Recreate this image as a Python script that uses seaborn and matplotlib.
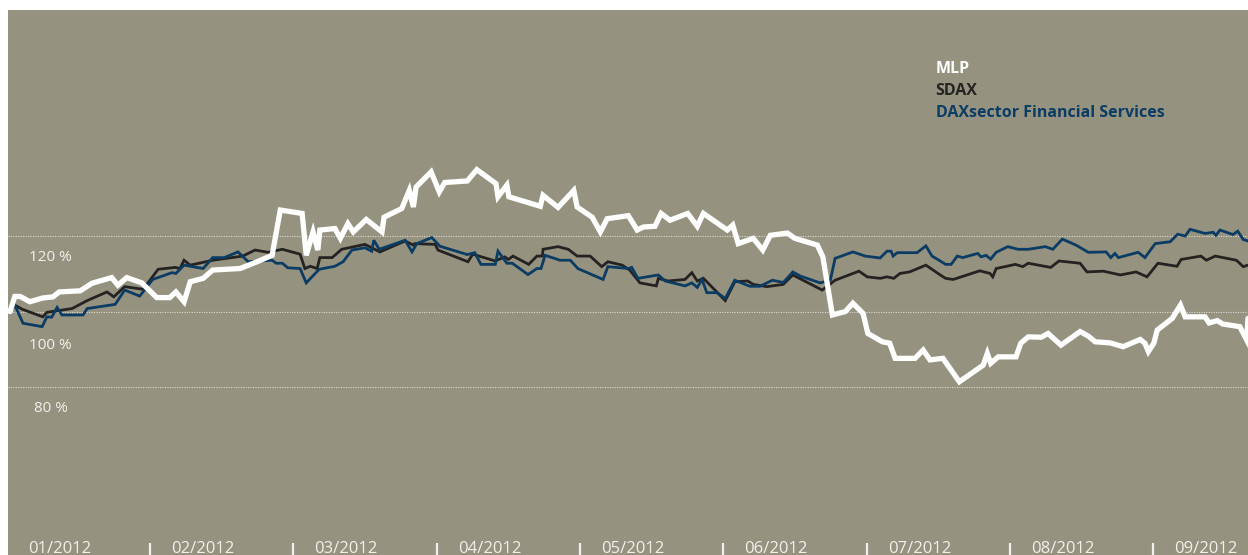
import pandas as pd
import matplotlib
matplotlib.use("Agg")
import matplotlib.pyplot as plt
import seaborn as sns

# trading days since start of January 2012 (21 per month) and index level in %
mlp_days = [0.3, 1.0, 1.8, 3.2, 5.1, 6.6, 7.5, 10.6, 12.3, 15.2, 16.1, 17.4, 19.6, 21.8, 23.7,
            24.6, 25.8, 26.7, 28.6, 30.0, 34.0, 36.5, 38.7, 39.9, 43.1, 43.7, 44.7, 45.4, 45.7,
            47.9, 48.7, 49.8, 50.6, 52.5, 54.8, 55.1, 57.7, 58.8, 59.4, 59.8, 62.0, 63.2, 64.0,
            67.3, 68.7, 71.5, 71.8, 73.1, 73.4, 78.0, 78.4, 80.6, 82.9, 83.4, 85.6, 86.8, 87.8,
            90.9, 92.2, 93.1, 94.8, 95.7, 97.0, 99.6, 101.0, 101.9, 105.4, 106.2, 107.0, 109.2,
            110.6, 111.7, 114.2, 115.3, 118.6, 119.4, 120.8, 122.7, 123.8, 125.3, 126.0, 128.1,
            129.2, 130.0, 132.9, 134.1, 135.1, 137.0, 139.4, 142.9, 143.5, 144.0, 145.1, 147.7,
            148.4, 149.5, 151.4, 152.4, 154.3, 157.1, 158.3, 159.3, 161.5, 163.4, 165.9, 166.6,
            167.1, 167.9, 168.4, 170.6, 171.8, 172.5, 175.4, 176.0, 177.2, 178.0, 180.5, 181.5,
            181.7]
mlp_values = [100.0, 104.0, 104.0, 102.6, 103.6, 103.9, 105.2, 105.5, 107.5, 109.0, 107.0, 109.0,
              107.6, 103.7, 103.7, 105.2, 102.6, 107.9, 108.8, 111.0, 111.4, 113.2, 114.9, 126.9,
              126.0, 114.9, 121.1, 116.3, 121.6, 122.0, 119.4, 123.3, 121.1, 124.4, 121.1, 125.0,
              127.3, 132.1, 127.7, 133.0, 137.0, 131.7, 134.2, 134.6, 137.6, 133.9, 130.4, 133.5,
              130.4, 127.9, 130.8, 127.6, 132.1, 127.7, 125.0, 121.1, 124.6, 125.4, 121.6, 122.4,
              122.6, 126.0, 124.2, 126.0, 122.6, 126.0, 121.6, 122.9, 118.0, 119.4, 116.3, 120.2,
              120.8, 119.4, 117.6, 114.5, 99.1, 100.0, 102.2, 99.5, 94.2, 92.0, 91.6, 87.6, 87.6,
              89.8, 87.2, 87.6, 81.4, 85.8, 88.9, 86.3, 88.0, 88.0, 91.6, 93.3, 93.2, 94.2, 91.1,
              94.7, 93.5, 92.0, 91.7, 90.7, 92.6, 91.6, 89.4, 91.6, 95.1, 98.2, 101.7, 98.6, 98.6,
              97.0, 97.6, 96.7, 96.0, 92.5, 98.2]

sdax_days = [0.3, 1.0, 2.1, 5.1, 5.7, 9.4, 11.6, 14.5, 15.5, 17.1, 19.8, 22.0, 24.5, 25.2, 25.8,
             26.7, 30.0, 34.4, 36.2, 38.1, 40.2, 42.8, 43.5, 44.3, 45.3, 45.7, 47.5, 48.9, 52.3,
             54.5, 58.2, 59.4, 59.6, 62.6, 63.0, 67.4, 68.1, 71.4, 72.8, 73.3, 74.0, 76.3, 77.5,
             78.3, 78.4, 80.6, 82.1, 83.4, 85.3, 87.0, 87.9, 90.0, 91.1, 92.6, 95.0, 95.3, 96.7,
             99.2, 100.2, 101.0, 101.9, 105.1, 106.5, 108.4, 109.2, 111.2, 113.6, 115.0, 119.3,
             121.2, 124.7, 125.9, 127.8, 128.8, 129.8, 130.7, 132.1, 134.5, 136.6, 137.4, 138.5,
             142.4, 143.9, 144.3, 144.8, 147.6, 148.7, 149.5, 152.8, 154.0, 157.1, 158.1, 160.5,
             163.0, 165.3, 166.9, 168.5, 171.3, 171.9, 174.8, 175.6, 176.9, 180.0, 181.0, 181.7]
sdax_values = [100.0, 101.7, 100.6, 98.6, 99.8, 100.8, 102.9, 105.2, 103.9, 106.6, 105.9, 111.2,
               111.7, 111.4, 113.6, 112.3, 113.6, 114.7, 116.3, 115.7, 116.5, 115.2, 111.4, 112.0,
               111.4, 114.3, 114.3, 116.5, 117.8, 115.8, 118.7, 117.6, 118.0, 117.8, 116.3, 113.2,
               115.2, 113.4, 114.5, 113.8, 114.7, 112.5, 114.7, 114.7, 116.5, 117.2, 116.5, 114.7,
               114.7, 111.9, 113.2, 112.3, 111.0, 107.6, 106.8, 108.8, 108.1, 108.5, 110.3, 108.1,
               108.8, 102.9, 107.9, 108.1, 107.2, 106.6, 107.2, 109.7, 105.7, 108.3, 110.7, 109.2,
               108.8, 109.2, 108.8, 110.1, 110.5, 112.3, 109.7, 108.8, 108.5, 110.8, 110.1, 109.2,
               111.4, 112.5, 111.9, 112.8, 111.7, 113.4, 112.8, 110.5, 110.7, 109.7, 110.5, 109.2,
               112.8, 112.0, 113.8, 114.7, 113.6, 114.7, 113.6, 111.9, 112.3]

dax_days = [0.3, 1.0, 2.2, 5.0, 5.7, 6.4, 7.2, 7.9, 11.0, 11.6, 15.7, 17.1, 19.3, 21.2, 24.0, 24.6,
            25.8, 28.6, 30.0, 31.7, 33.7, 35.2, 38.7, 39.3, 40.2, 41.0, 42.8, 43.7, 45.6, 47.9,
            49.1, 50.4, 52.3, 53.3, 53.6, 54.4, 58.2, 59.2, 59.9, 62.1, 63.3, 67.3, 68.4, 69.3,
            71.4, 71.8, 73.1, 73.9, 76.2, 77.5, 78.1, 78.7, 80.9, 82.4, 83.5, 87.2, 87.9, 90.9,
            91.4, 92.3, 95.3, 96.3, 99.2, 100.2, 101.0, 101.7, 102.4, 103.9, 105.1, 106.5, 108.7,
            110.2, 112.0, 113.6, 115.0, 116.1, 119.0, 120.5, 121.2, 123.8, 125.6, 127.8, 128.8,
            129.4, 129.7, 130.3, 133.2, 134.5, 135.4, 136.6, 137.4, 138.2, 139.1, 139.9, 142.1,
            142.6, 143.3, 144.0, 144.8, 146.5, 148.0, 149.5, 152.0, 153.1, 154.5, 156.5, 158.3,
            160.9, 161.6, 162.2, 162.7, 165.6, 166.6, 168.1, 170.3, 171.4, 172.5, 173.2, 175.4,
            176.6, 177.0, 177.6, 179.5, 180.2, 181.0, 181.7]
dax_values = [100.0, 101.7, 96.9, 96.0, 98.6, 98.5, 101.1, 99.1, 99.1, 100.8, 101.9, 105.7, 104.1,
              108.5, 110.3, 110.1, 112.3, 111.4, 114.3, 114.3, 115.8, 113.2, 113.6, 112.8, 112.8,
              111.6, 111.4, 107.6, 111.2, 112.0, 113.2, 116.3, 116.9, 116.0, 118.9, 116.5, 118.9,
              115.8, 118.0, 119.6, 117.3, 115.1, 115.6, 112.5, 112.5, 116.0, 112.8, 112.8, 109.8,
              111.4, 111.4, 114.9, 113.6, 113.6, 111.4, 108.5, 111.9, 111.4, 111.7, 108.8, 109.7,
              108.1, 106.8, 107.6, 106.4, 108.5, 105.0, 105.0, 103.5, 108.3, 106.7, 106.7, 108.3,
              107.7, 110.5, 109.4, 107.6, 108.3, 114.1, 115.8, 114.7, 114.2, 116.0, 116.0, 114.7,
              115.6, 115.6, 117.4, 114.7, 113.4, 112.5, 112.5, 114.7, 114.3, 115.4, 114.5, 114.9,
              113.9, 115.7, 117.2, 116.5, 116.5, 117.2, 116.5, 119.2, 117.6, 115.7, 115.8, 114.3,
              115.4, 114.3, 115.7, 114.3, 118.0, 118.5, 120.5, 120.0, 121.8, 120.7, 121.0, 120.2,
              121.6, 120.4, 121.3, 119.1, 118.7]

series_names = ["MLP", "SDAX", "DAXsector Financial Services"]
month_labels = ["01/2012", "02/2012", "03/2012", "04/2012", "05/2012",
                "06/2012", "07/2012", "08/2012", "09/2012"]
grid_levels = [120, 100, 80]
level_labels = ["120 %", "100 %", "80 %"]

BG = "#959380"
TXT = "#f2f0ea"
colors = {"MLP": "#ffffff", "SDAX": "#252322", "DAXsector Financial Services": "#0b3c64"}
widths = {"MLP": 3.8, "SDAX": 2.0, "DAXsector Financial Services": 2.0}

df = pd.concat([
    pd.DataFrame({"day": mlp_days, "value": mlp_values, "series": "MLP"}),
    pd.DataFrame({"day": sdax_days, "value": sdax_values, "series": "SDAX"}),
    pd.DataFrame({"day": dax_days, "value": dax_values, "series": "DAXsector Financial Services"}),
])

sns.set_style("white")
plt.rcParams["font.family"] = ["Open Sans", "DejaVu Sans"]

fig = plt.figure(figsize=(12.48, 5.55), dpi=100, facecolor="white")
ax = fig.add_axes([8 / 1248, 0, 1240 / 1248, 545 / 555])
ax.set_facecolor(BG)

days_per_month = 21
ax.set_xlim(0, 181.7)
ax.set_ylim(35.5, 179.9)

# dotted reference lines
for lvl in grid_levels:
    ax.axhline(lvl, color="#dcdad0", lw=0.8, ls=(0, (1, 1.2)), zorder=1)

# draw order: SDAX, DAX sector, MLP on top
for name in ["SDAX", "DAXsector Financial Services", "MLP"]:
    sub = df[df["series"] == name]
    sns.lineplot(data=sub, x="day", y="value", ax=ax, color=colors[name],
                 linewidth=widths[name], estimator=None, sort=False, zorder=3,
                 solid_joinstyle="miter")

# y level labels (placed below their lines as in the original)
label_pos = [114.4, 91.1, 74.2]
for pos, txt in zip(label_pos, level_labels):
    ax.text(0.0345, pos, txt, transform=ax.get_yaxis_transform(), ha="center", va="center",
            fontsize=11, color=TXT)

# month labels and separators
trans = ax.get_xaxis_transform()
for i, lab in enumerate(month_labels):
    ax.text(i * days_per_month + 2.9, 0.004, lab, transform=trans, ha="left", va="baseline",
            fontsize=12, color=TXT)
    if i > 0:
        ax.plot([i * days_per_month - 0.2] * 2, [0.0, 0.022], transform=trans,
                color=TXT, lw=1.6, solid_capstyle="butt", clip_on=False)

# legend as coloured text
leg_y = [0.892, 0.851, 0.811]
for name, y in zip(series_names, leg_y):
    ax.text(0.748, y, name, transform=ax.transAxes, ha="left", va="center",
            fontsize=11.5, fontweight="bold", color=colors[name])

ax.set_xlabel("")
ax.set_ylabel("")
ax.set_xticks([])
ax.set_yticks([])
for s in ax.spines.values():
    s.set_visible(False)
if ax.get_legend() is not None:
    ax.get_legend().remove()

fig.savefig("out.png", dpi=100, facecolor="white")
